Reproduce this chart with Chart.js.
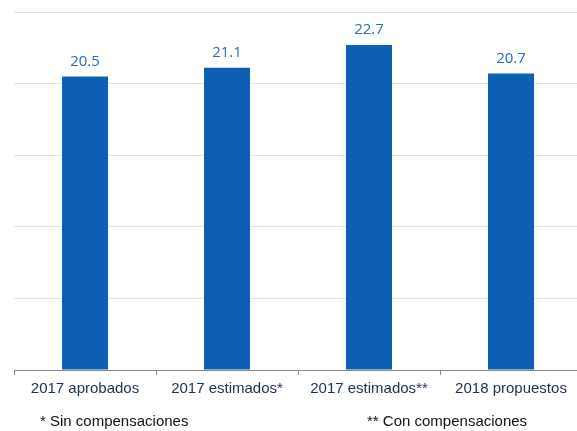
<!DOCTYPE html>
<html>
<head>
<meta charset="utf-8">
<script src="https://cdn.jsdelivr.net/npm/chart.js@4"></script>
<style>
  html, body { margin: 0; padding: 0; background: #fff; overflow: hidden; }
  #wrap { width: 577px; height: 431px; overflow: hidden; }
</style>
</head>
<body>
<div id="wrap"><canvas id="myChart" width="582" height="431"></canvas></div>
<script>
const categories = ['2017 aprobados', '2017 estimados*', '2017 estimados**', '2018 propuestos'];
const values = [20.5, 21.1, 22.7, 20.7];
const notes = ['* Sin compensaciones', '** Con compensaciones'];

// value labels above each bar + footnotes under the axis
const labelsPlugin = {
  id: 'labels',
  afterDatasetsDraw(chart) {
    const c = chart.ctx;
    c.save();
    c.font = '15px "Open Sans"';
    c.fillStyle = '#2a6cb8';
    c.textAlign = 'center';
    c.textBaseline = 'middle';
    chart.getDatasetMeta(0).data.forEach((bar, i) => {
      c.fillText(values[i].toFixed(1), bar.x, bar.y - 15);
    });
    c.restore();
  },
  afterDraw(chart) {
    const c = chart.ctx;
    c.save();
    c.font = '15px "Liberation Sans"';
    c.fillStyle = '#111';
    c.textBaseline = 'middle';
    c.fillText(notes[0], 40, 422);
    c.fillText(notes[1], 367, 422);
    c.restore();
  }
};

new Chart(document.getElementById('myChart'), {
  type: 'bar',
  data: {
    labels: categories,
    datasets: [{
      data: values,
      backgroundColor: '#0c5fb3',
      barPercentage: 0.324,
      categoryPercentage: 1
    }]
  },
  options: {
    responsive: false,
    animation: false,
    devicePixelRatio: 1,
    layout: { padding: { left: 14, top: 12, right: 0, bottom: 0 } },
    plugins: { legend: { display: false }, tooltip: { enabled: false } },
    scales: {
      x: {
        grid: { offset: true, drawOnChartArea: false, color: '#8c8c8c', tickLength: 5 },
        border: { display: true, color: '#8c8c8c' },
        ticks: { color: '#1d3050', font: { family: 'Liberation Sans', size: 15 }, padding: 5, maxRotation: 0 },
        afterFit(scale) { scale.height = 61; }
      },
      y: {
        min: 0,
        max: 25,
        ticks: { display: false, stepSize: 5 },
        grid: { color: '#e2e2e2', drawTicks: false },
        border: { display: false },
        afterFit(scale) { scale.width = 0; }
      }
    }
  },
  plugins: [labelsPlugin]
});
</script>
</body>
</html>
